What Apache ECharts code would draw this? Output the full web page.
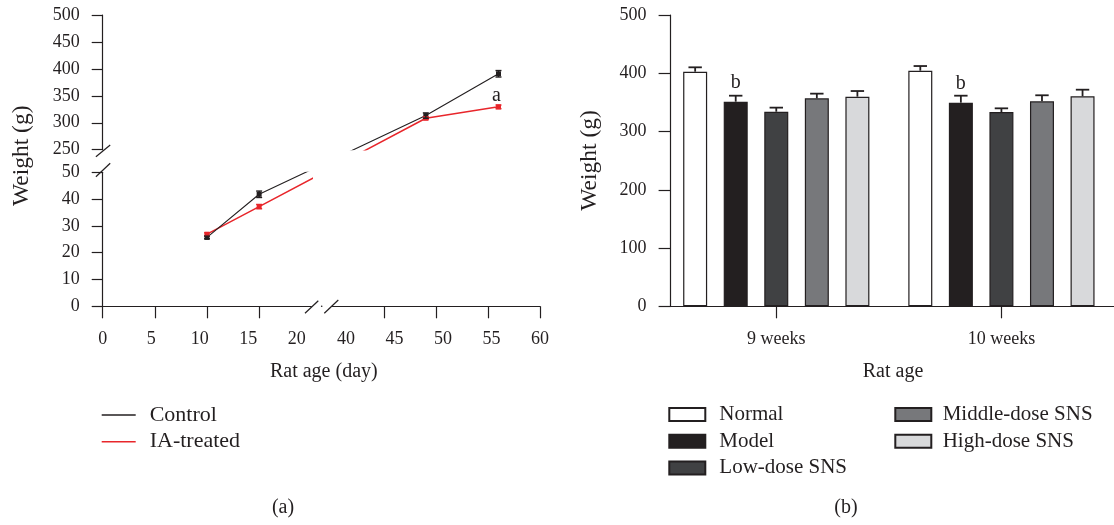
<!DOCTYPE html>
<html><head><meta charset="utf-8">
<script src="https://cdn.jsdelivr.net/npm/echarts@6/dist/echarts.min.js"></script>
<style>html,body{margin:0;padding:0;background:#fff}#c{width:1114px;height:525px}</style>
</head><body><div id="c"></div>
<script>
// ---------- Panel (a) data ----------
const days = [10, 15, 49, 56];
const controlW = [25.7, 41.8, 313.3, 390.9];
const controlErr = [0.5, 1.2, 5, 6];
const iaW = [26.9, 37.2, 308.4, 329.5];
const iaErr = [0.5, 0.8, 2.5, 3.4];
const xTicksLeft = [0, 5, 10, 15];
const xLabelsLeft = [0, 5, 10, 15, 20];
const xTicksRight = [45, 50, 55, 60];
const xLabelsRight = [40, 45, 50, 55, 60];

// ---------- Panel (b) data ----------
const groups = ['9 weeks', '10 weeks'];
const normalW = [402.7, 404.4];
const normalErr = [7.5, 8];
const modelW = [351.2, 349.5];
const modelErr = [10.3, 12];
const lowW = [334, 333.5];
const lowErr = [7, 6.3];
const middleW = [357, 351.9];
const middleErr = [8, 10.3];
const highW = [359.8, 360.5];
const highErr = [9.7, 11.3];

const FONT = '"Liberation Serif", "DejaVu Serif", serif';
const INK = '#231f20';
const RED = '#e8262b';

const chart = echarts.init(document.getElementById('c'), null, {renderer: 'canvas'});

const lowerIdx = [0, 1];
const upperIdx = [2, 3];

function axisLineStyle() { return {show: true, lineStyle: {color: INK, width: 1.2}}; }
function lbl(size) { return {fontFamily: FONT, fontSize: size, color: INK}; }

function lineErr(xAxisIndex, yAxisIndex, idx, vals, errs, color) {
  return {
    type: 'custom', coordinateSystem: 'cartesian2d', xAxisIndex, yAxisIndex, z: 5,
    silent: true,
    data: idx.map(i => [days[i], vals[i], errs[i]]),
    renderItem: function (params, api) {
      const x = api.value(0), v = api.value(1), e = api.value(2);
      const t = api.coord([x, v + e]), b = api.coord([x, v - e]);
      const st = {stroke: color, lineWidth: 1.4};
      return {type: 'group', children: [
        {type: 'line', shape: {x1: t[0], y1: t[1], x2: b[0], y2: b[1]}, style: st},
        {type: 'line', shape: {x1: t[0] - 3, y1: t[1], x2: t[0] + 3, y2: t[1]}, style: st},
        {type: 'line', shape: {x1: b[0] - 3, y1: b[1], x2: b[0] + 3, y2: b[1]}, style: st}
      ]};
    }
  };
}

function buildOption(br) {
  const barDefs = [
    {name: 'Normal', vals: normalW, errs: normalErr, color: '#ffffff'},
    {name: 'Model', vals: modelW, errs: modelErr, color: INK},
    {name: 'Low-dose SNS', vals: lowW, errs: lowErr, color: '#404143'},
    {name: 'Middle-dose SNS', vals: middleW, errs: middleErr, color: '#77787b'},
    {name: 'High-dose SNS', vals: highW, errs: highErr, color: '#d8d9db'}
  ];
  const barSeries = barDefs.map((d, si) => ({
    type: 'bar', name: d.name, xAxisIndex: 6, yAxisIndex: 4,
    barWidth: 24, barGap: '69%',
    itemStyle: {color: d.color, borderColor: INK, borderWidth: 1.2},
    label: si === 1 ? Object.assign({show: true, formatter: 'b', position: 'top', distance: 9}, lbl(20)) : {show: false},
    data: d.vals
  }));
  const barErrData = [];
  barDefs.forEach((d, si) => d.vals.forEach((v, ci) => barErrData.push([ci, si, v, d.errs[ci]])));
  const barErr = {
    type: 'custom', coordinateSystem: 'cartesian2d', xAxisIndex: 6, yAxisIndex: 4, z: 6, silent: true,
    data: barErrData,
    renderItem: function (params, api) {
      const layout = api.barLayout({barWidth: 24, barGap: '69%', count: 5});
      const ci = api.value(0), si = api.value(1), v = api.value(2), e = api.value(3);
      const base = api.coord([ci, v]), top = api.coord([ci, v + e]);
      const cx = base[0] + layout[si].offsetCenter;
      const st = {stroke: INK, lineWidth: 1.8};
      return {type: 'group', children: [
        {type: 'line', shape: {x1: cx, y1: base[1], x2: cx, y2: top[1]}, style: st},
        {type: 'line', shape: {x1: cx - 6.7, y1: top[1], x2: cx + 6.7, y2: top[1]}, style: st}
      ]};
    }
  };

  function lineSeries(name, vals, color, width, lowerBridge, upperBridge, z) {
    const lowData = lowerIdx.map(i => [days[i], vals[i]]);
    if (lowerBridge) lowData.push({value: lowerBridge, symbol: 'none'});
    const upData = [];
    if (upperBridge) upData.push({value: upperBridge, symbol: 'none'});
    upperIdx.forEach(i => upData.push([days[i], vals[i]]));
    if (name === 'IA-treated') {
      const last = upData[upData.length - 1];
      upData[upData.length - 1] = {value: last, label: Object.assign({show: true, formatter: 'a', position: 'top', distance: 5, offset: [-2, 6]}, lbl(20))};
    }
    const common = {type: 'line', name, symbol: 'rect', symbolSize: 5, z,
      itemStyle: {color}, lineStyle: {color, width}, clip: true};
    return [
      Object.assign({}, common, {xAxisIndex: 0, yAxisIndex: 0, data: lowData}),
      Object.assign({}, common, {xAxisIndex: 3, yAxisIndex: 2, data: upData})
    ];
  }

  const series = [].concat(
    lineSeries('IA-treated', iaW, RED, 1.5, br.iaLow, br.iaUp, 3),
    lineSeries('Control', controlW, INK, 1.1, br.ctlLow, br.ctlUp, 4),
    [lineErr(0, 0, lowerIdx, iaW, iaErr, RED), lineErr(3, 2, upperIdx, iaW, iaErr, RED),
     lineErr(0, 0, lowerIdx, controlW, controlErr, INK), lineErr(3, 2, upperIdx, controlW, controlErr, INK)],
    barSeries, [barErr]
  );

  const titleFont = '20px ' + FONT;
  const yTitleFont = '23.5px ' + FONT;

  return {
    animation: false,
    backgroundColor: '#ffffff',
    grid: [
      {left: 102.7, top: 172.3, width: 208.6, height: 134},   // 0 lower-left
      {left: 102.7, top: 15, width: 10, height: 134.7},       // 1 upper y-axis
      {left: 332.4, top: 15, width: 207.6, height: 134.7},    // 2 upper-right data
      {left: 332.4, top: 172.3, width: 207.6, height: 134},   // 3 lower-right x-axis
      {left: 663.7, top: 15, width: 459.6, height: 291.3}     // 4 bars
    ],
    xAxis: [
      {type: 'value', gridIndex: 0, min: 0, max: 20, position: 'bottom',
       axisLine: axisLineStyle(), axisTick: {show: true, length: 12, customValues: xTicksLeft, lineStyle: {color: INK, width: 1.2}},
       axisLabel: {show: false}, splitLine: {show: false}},
      {type: 'value', gridIndex: 0, min: 0, max: 21.5, position: 'bottom',
       axisLine: {show: false}, axisTick: {show: false}, splitLine: {show: false},
       axisLabel: Object.assign({customValues: xLabelsLeft, margin: 24}, lbl(18))},
      {type: 'value', gridIndex: 1, show: false},
      {type: 'value', gridIndex: 2, min: 40, max: 60, show: false},
      {type: 'value', gridIndex: 3, min: 40, max: 60, position: 'bottom',
       axisLine: axisLineStyle(), axisTick: {show: true, length: 12, customValues: xTicksRight, lineStyle: {color: INK, width: 1.2}},
       axisLabel: {show: false}, splitLine: {show: false}},
      {type: 'value', gridIndex: 3, min: 38.6, max: 60, position: 'bottom',
       axisLine: {show: false}, axisTick: {show: false}, splitLine: {show: false},
       axisLabel: Object.assign({customValues: xLabelsRight, margin: 24}, lbl(18))},
      {type: 'category', gridIndex: 4, data: groups, position: 'bottom',
       axisLine: axisLineStyle(), axisTick: {show: true, alignWithLabel: true, length: 12, lineStyle: {color: INK, width: 1.2}},
       axisLabel: Object.assign({margin: 24}, lbl(18))}
    ],
    yAxis: [
      {type: 'value', gridIndex: 0, min: 0, max: 50, interval: 10,
       axisLine: axisLineStyle(), axisTick: {show: true, length: 11, lineStyle: {color: INK, width: 1.2}},
       axisLabel: Object.assign({margin: 23}, lbl(18)), splitLine: {show: false}},
      {type: 'value', gridIndex: 1, min: 250, max: 500, interval: 50,
       axisLine: axisLineStyle(), axisTick: {show: true, length: 11, lineStyle: {color: INK, width: 1.2}},
       axisLabel: Object.assign({margin: 23}, lbl(18)), splitLine: {show: false}},
      {type: 'value', gridIndex: 2, min: 250, max: 500, show: false},
      {type: 'value', gridIndex: 3, min: 0, max: 1, show: false},
      {type: 'value', gridIndex: 4, min: 0, max: 500, interval: 100, offset: -6.9,
       axisLine: axisLineStyle(), axisTick: {show: true, length: 12, lineStyle: {color: INK, width: 1.2}},
       axisLabel: Object.assign({margin: 24}, lbl(18)), splitLine: {show: false}}
    ],
    legend: [
      {data: ['Control', 'IA-treated'], orient: 'vertical', left: 101.7, top: 404, padding: 0,
       itemWidth: 34, itemHeight: 1.5, icon: 'rect', itemGap: 4.7, selectedMode: false,
       textStyle: Object.assign({padding: [0, 0, 0, 9]}, lbl(22))},
      {data: ['Normal', 'Model', 'Low-dose SNS'], orient: 'vertical', left: 668.3, top: 404, padding: 0,
       itemWidth: 36, itemHeight: 13, icon: 'rect', itemGap: 5.7, selectedMode: false,
       textStyle: Object.assign({padding: [0, 0, 0, 9]}, lbl(21))},
      {data: ['Middle-dose SNS', 'High-dose SNS'], orient: 'vertical', left: 894.3, top: 404, padding: 0,
       itemWidth: 36, itemHeight: 13, icon: 'rect', itemGap: 5.7, selectedMode: false,
       textStyle: Object.assign({padding: [0, 0, 0, 6.4]}, lbl(21))}
    ],
    graphic: [
      // axis break marks
      {type: 'line', shape: {x1: 95.9, y1: 156.7, x2: 110.2, y2: 145}, style: {stroke: INK, lineWidth: 1.2}},
      {type: 'line', shape: {x1: 95.9, y1: 176.7, x2: 110.2, y2: 163.3}, style: {stroke: INK, lineWidth: 1.2}},
      {type: 'rect', shape: {x: 312, y: 303, width: 20, height: 6}, style: {fill: '#fff'}},
      {type: 'line', shape: {x1: 305, y1: 313.3, x2: 318.3, y2: 300.7}, style: {stroke: INK, lineWidth: 1.2}},
      {type: 'circle', shape: {cx: 321.7, cy: 306.2, r: 0.8}, style: {fill: INK}},
      {type: 'line', shape: {x1: 324.3, y1: 313.3, x2: 338.3, y2: 300}, style: {stroke: INK, lineWidth: 1.2}},
      // axis titles and captions
      {type: 'text', x: 22, y: 155.8, rotation: Math.PI / 2, style: {text: 'Weight (g)', align: 'center', verticalAlign: 'middle', fill: INK, font: yTitleFont}},
      {type: 'text', x: 590, y: 160.5, rotation: Math.PI / 2, style: {text: 'Weight (g)', align: 'center', verticalAlign: 'middle', fill: INK, font: yTitleFont}},
      {type: 'text', x: 323.8, y: 372, style: {text: 'Rat age (day)', align: 'center', verticalAlign: 'middle', fill: INK, font: titleFont}},
      {type: 'text', x: 893, y: 372, style: {text: 'Rat age', align: 'center', verticalAlign: 'middle', fill: INK, font: titleFont}},
      {type: 'text', x: 283, y: 508, style: {text: '(a)', align: 'center', verticalAlign: 'middle', fill: INK, font: titleFont}},
      {type: 'text', x: 846, y: 508, style: {text: '(b)', align: 'center', verticalAlign: 'middle', fill: INK, font: titleFont}}
    ],
    series
  };
}

// first pass without bridges, to get the axes' scales
chart.setOption(buildOption({}));
const LOW = {xAxisIndex: 0, yAxisIndex: 0};
const UP = {xAxisIndex: 3, yAxisIndex: 2};
function bridge(vals) {
  const upPx = chart.convertToPixel(UP, [days[upperIdx[0]], vals[upperIdx[0]]]);
  const lowPx = chart.convertToPixel(LOW, [days[lowerIdx[lowerIdx.length - 1]], vals[lowerIdx[lowerIdx.length - 1]]]);
  return {low: chart.convertFromPixel(LOW, upPx), up: chart.convertFromPixel(UP, lowPx)};
}
const bc = bridge(controlW), bi = bridge(iaW);
chart.setOption(buildOption({ctlLow: bc.low, ctlUp: bc.up, iaLow: bi.low, iaUp: bi.up}), true);
</script>
</body></html>
